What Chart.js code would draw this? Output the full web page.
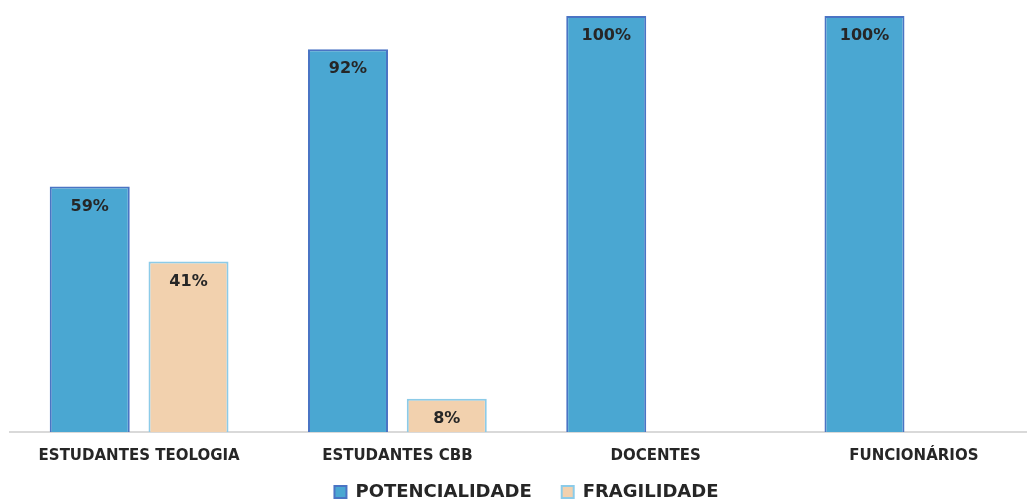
<!DOCTYPE html>
<html>
<head>
<meta charset="utf-8">
<script src="https://cdn.jsdelivr.net/npm/chart.js@4"></script>
<style>
  html, body { margin: 0; padding: 0; background: #fff; overflow: hidden; }
  #wrap { position: relative; width: 1043px; height: 530px; }
</style>
</head>
<body>
<div id="wrap"><canvas id="chart"></canvas></div>
<script>
// Chart data
const categories = ['ESTUDANTES TEOLOGIA', 'ESTUDANTES CBB', 'DOCENTES', 'FUNCIONÁRIOS'];
const potencialidade = [59, 92, 100, 100];
const fragilidade = [41, 8, null, null];
const seriesNames = ['POTENCIALIDADE', 'FRAGILIDADE'];

// draws the % labels just inside the top of each bar
const barLabels = {
    id: 'barLabels',
    afterDatasetsDraw(chart) {
        const ctx = chart.ctx;
        ctx.save();
        ctx.font = 'bold 16px "DejaVu Sans"';
        ctx.fillStyle = '#262626';
        ctx.textAlign = 'center';
        ctx.textBaseline = 'middle';
        chart.data.datasets.forEach((ds, i) => {
            const meta = chart.getDatasetMeta(i);
            meta.data.forEach((bar, j) => {
                const v = ds.data[j];
                if (v === null || v === undefined) return;
                ctx.fillText(v + '%', bar.x, bar.y + 20);
            });
        });
        ctx.restore();
    }
};

// the wide legend padding also adds height, so pull the legend up a bit
const legendLift = {
    id: 'legendLift',
    afterLayout(chart) {
        const lg = chart.legend;
        if (!lg) return;
        const dy = 19;
        lg.top -= dy;
        lg.bottom -= dy;
        (lg.legendHitBoxes || []).forEach(h => { h.top -= dy; });
    }
};

new Chart(document.getElementById('chart'), {
    type: 'bar',
    data: {
        labels: categories,
        datasets: [{
            label: seriesNames[0],
            data: potencialidade,
            backgroundColor: '#4aa7d2',
            borderColor: '#4a74c4',
            borderWidth: 2,
            borderSkipped: 'bottom',
            barPercentage: 0.81,
            categoryPercentage: 0.765
        }, {
            label: seriesNames[1],
            data: fragilidade,
            backgroundColor: '#f2d1ae',
            borderColor: '#8ccbe8',
            borderWidth: 2,
            borderSkipped: 'bottom',
            barPercentage: 0.81,
            categoryPercentage: 0.765
        }]
    },
    options: {
        responsive: true,
        maintainAspectRatio: false,
        animation: false,
        layout: {
            padding: { top: 16, left: 10, right: 0, bottom: 0 }
        },
        plugins: {
            legend: {
                position: 'bottom',
                labels: {
                    font: { family: 'DejaVu Sans', size: 18, weight: 'bold' },
                    color: '#262626',
                    boxWidth: 12,
                    boxHeight: 12,
                    padding: 30
                }
            },
            tooltip: { enabled: false }
        },
        scales: {
            x: {
                grid: { display: false },
                border: { display: true, color: '#d9d9d9', width: 2 },
                ticks: {
                    color: '#262626',
                    font: { family: 'DejaVu Sans', size: 15, weight: 'bold' },
                    padding: 7,
                    maxRotation: 0
                }
            },
            y: {
                display: false,
                min: 0,
                max: 100
            }
        }
    },
    plugins: [barLabels, legendLift]
});
</script>
</body>
</html>
